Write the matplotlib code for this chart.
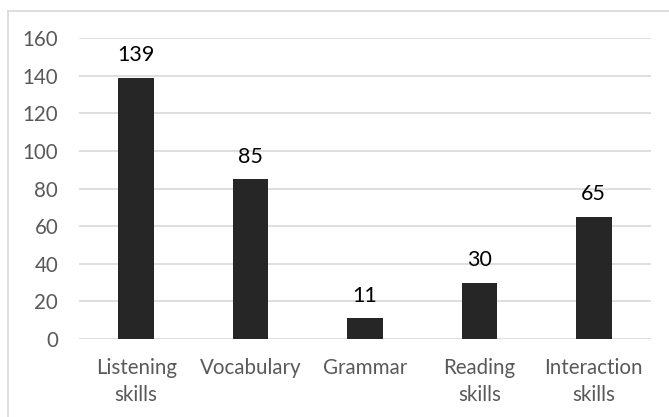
import matplotlib
matplotlib.use("Agg")
import matplotlib.pyplot as plt
from matplotlib.lines import Line2D

categories = ["Listening\nskills", "Vocabulary", "Grammar", "Reading\nskills", "Interaction\nskills"]
counts = [139, 85, 11, 30, 65]
yticks = [0, 20, 40, 60, 80, 100, 120, 140, 160]

plt.rcParams["font.family"] = ["Lato", "DejaVu Sans"]

W, H = 669, 417
fig = plt.figure(figsize=(W / 100, H / 100), dpi=100)
ax = fig.add_axes([79 / W, 78 / H, (651 - 79) / W, (379 - 78) / H])

x = range(len(categories))
ax.bar(x, counts, width=0.31, color="#262626", zorder=3)
for xi, v in zip(x, counts):
    ax.annotate(str(v), (xi, v), xytext=(0, 9), textcoords="offset points",
                ha="center", va="bottom", fontsize=15.5, color="#000000")

ax.set_xlim(-0.5, len(categories) - 0.5)
ax.set_ylim(0, 160)
ax.set_yticks(yticks)
ax.set_xticks(list(x))
ax.set_xticklabels(categories, linespacing=1.4)
ax.tick_params(axis="both", length=0, labelsize=14.8, labelcolor="#595959")
ax.tick_params(axis="x", pad=14)
ax.tick_params(axis="y", pad=15)
ax.grid(axis="y", color="#d9d9d9", linewidth=1.2, zorder=0)
for s in ax.spines.values():
    s.set_visible(False)

# outer chart frame (only top and left edges fall inside the image)
fig.add_artist(Line2D([8 / W, 1], [1 - 11 / H, 1 - 11 / H], color="#d9d9d9", linewidth=1.2))
fig.add_artist(Line2D([8 / W, 8 / W], [0, 1 - 11 / H], color="#d9d9d9", linewidth=1.2))

fig.savefig("out.png", dpi=100)
